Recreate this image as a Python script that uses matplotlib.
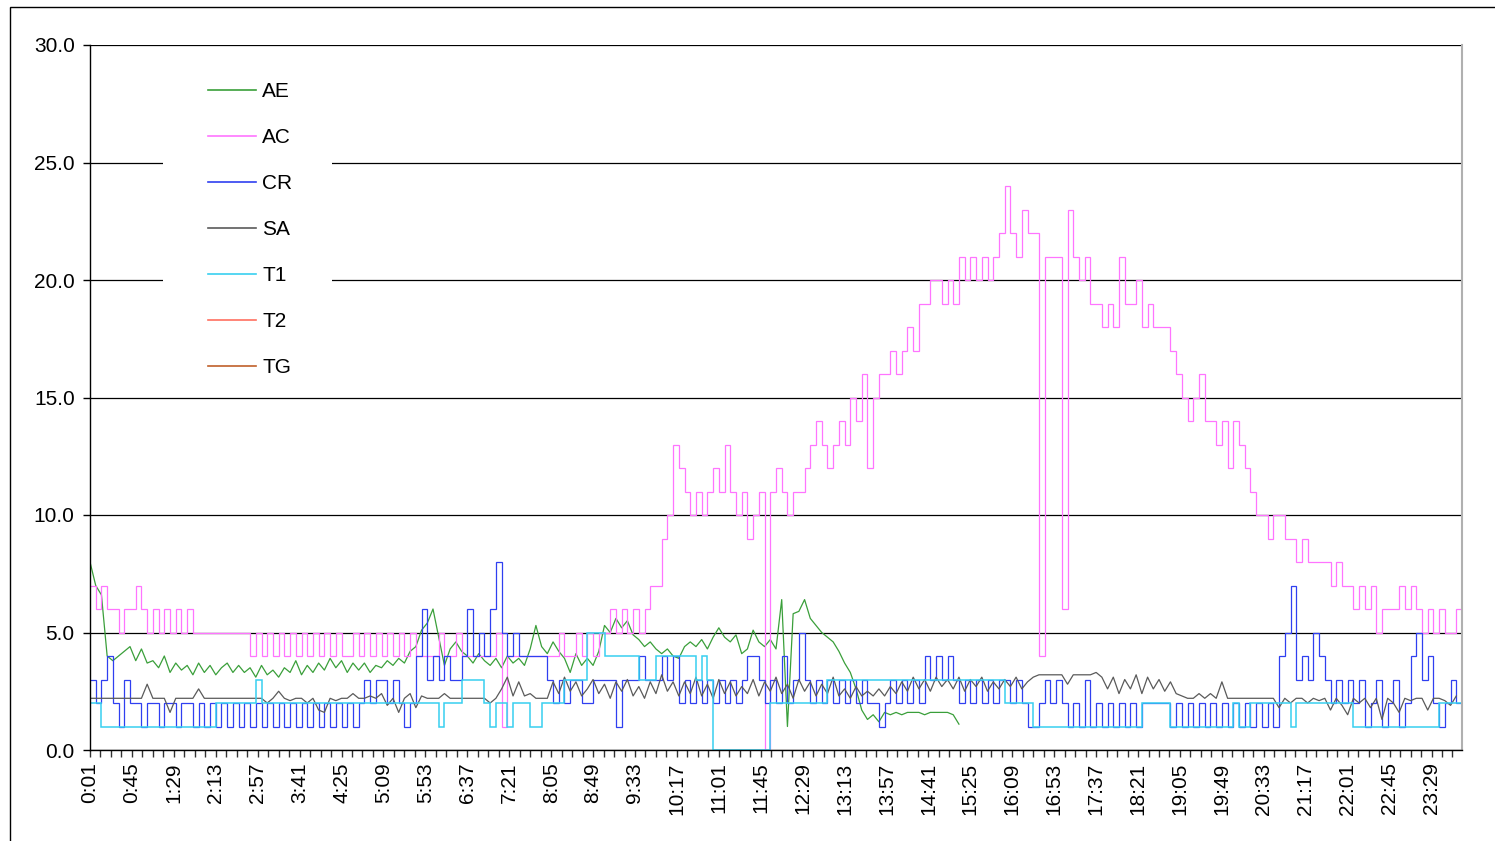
import numpy as np
import matplotlib
matplotlib.use('Agg')
import matplotlib.pyplot as plt
from matplotlib.patches import Rectangle
from matplotlib.lines import Line2D

plt.rcParams['font.family'] = ['Liberation Sans', 'DejaVu Sans']

# ---------------- data (one sample every 6 minutes, starting 0:01) ----------------
STEP_MIN = 6

tick_labels = ['0:01', '0:45', '1:29', '2:13', '2:57', '3:41', '4:25', '5:09', '5:53',
               '6:37', '7:21', '8:05', '8:49', '9:33', '10:17', '11:01', '11:45', '12:29',
               '13:13', '13:57', '14:41', '15:25', '16:09', '16:53', '17:37', '18:21',
               '19:05', '19:49', '20:33', '21:17', '22:01', '22:45', '23:29']

series_names = ['AE', 'AC', 'CR', 'SA', 'T1', 'T2', 'TG']

AE = [8.0, 7.0, 6.6, 4.0, 3.8, 4.0, 4.2, 4.4, 3.8, 4.3,
      3.7, 3.8, 3.5, 4.0, 3.3, 3.7, 3.4, 3.6, 3.2, 3.7,
      3.3, 3.6, 3.2, 3.5, 3.7, 3.3, 3.6, 3.3, 3.5, 3.1,
      3.6, 3.2, 3.4, 3.1, 3.5, 3.3, 3.8, 3.2, 3.6, 3.3,
      3.7, 3.4, 3.9, 3.5, 3.8, 3.3, 3.7, 3.4, 3.7, 3.3,
      3.6, 3.5, 3.8, 3.6, 3.9, 3.7, 4.2, 4.4, 5.1, 5.4,
      6.0, 4.8, 3.6, 4.3, 4.6, 4.2, 4.0, 3.7, 4.1, 3.8,
      3.6, 3.9, 3.5, 4.0, 3.7, 3.9, 3.6, 4.3, 5.3, 4.4,
      4.1, 4.6, 4.2, 3.9, 3.3, 4.1, 3.6, 3.9, 3.6, 4.2,
      5.3, 5.0, 5.6, 5.2, 5.5, 4.9, 4.7, 4.4, 4.6, 4.3,
      4.1, 4.3, 4.0, 3.9, 4.4, 4.6, 4.4, 4.7, 4.3, 4.8,
      5.2, 4.8, 4.6, 4.9, 4.1, 4.3, 5.1, 4.6, 4.4, 4.7,
      4.3, 6.4, 1.0, 5.8, 5.9, 6.4, 5.6, 5.3, 5.0, 4.8,
      4.6, 4.2, 3.7, 3.3, 2.6, 1.7, 1.3, 1.5, 1.2, 1.6,
      1.5, 1.6, 1.5, 1.6, 1.6, 1.6, 1.5, 1.6, 1.6, 1.6,
      1.6, 1.5, 1.1]

AC = [7, 6, 7, 6, 6, 5, 6, 6, 7, 6,
      5, 6, 5, 6, 5, 6, 5, 6, 5, 5,
      5, 5, 5, 5, 5, 5, 5, 5, 4, 5,
      4, 5, 4, 5, 4, 5, 4, 5, 4, 5,
      4, 5, 4, 5, 4, 4, 5, 4, 5, 4,
      5, 4, 5, 4, 5, 4, 5, 4, 4, 4,
      4, 5, 4, 4, 5, 4, 4, 4, 4, 4,
      4, 5, 1, 4, 4, 4, 4, 4, 4, 4,
      4, 4, 5, 4, 4, 5, 4, 5, 4, 5,
      5, 6, 5, 6, 5, 6, 5, 6, 7, 7,
      9, 10, 13, 12, 11, 10, 11, 10, 11, 12,
      11, 13, 11, 10, 11, 9, 10, 11, 0, 11,
      12, 11, 10, 11, 11, 12, 13, 14, 13, 12,
      13, 14, 13, 15, 14, 16, 12, 15, 16, 16,
      17, 16, 17, 18, 17, 19, 19, 20, 20, 19,
      20, 19, 21, 20, 21, 20, 21, 20, 21, 22,
      24, 22, 21, 23, 22, 22, 4, 21, 21, 21,
      6, 23, 21, 20, 21, 19, 19, 18, 19, 18,
      21, 19, 19, 20, 18, 19, 18, 18, 18, 17,
      16, 15, 14, 15, 16, 14, 14, 13, 14, 12,
      14, 13, 12, 11, 10, 10, 9, 10, 10, 9,
      9, 8, 9, 8, 8, 8, 8, 7, 8, 7,
      7, 6, 7, 6, 7, 5, 6, 6, 6, 7,
      6, 7, 6, 5, 6, 5, 6, 5, 5, 6]

CR = [3, 2, 3, 4, 2, 1, 3, 2, 2, 1,
      2, 2, 1, 2, 2, 1, 2, 2, 1, 2,
      1, 2, 1, 2, 1, 2, 1, 2, 1, 2,
      1, 2, 1, 2, 1, 2, 1, 2, 1, 2,
      1, 2, 1, 2, 1, 2, 1, 2, 3, 2,
      3, 3, 2, 3, 2, 1, 2, 4, 6, 3,
      4, 3, 4, 3, 3, 4, 6, 4, 5, 4,
      6, 8, 5, 4, 5, 4, 4, 4, 4, 4,
      3, 2, 3, 2, 3, 3, 2, 2, 3, 3,
      3, 3, 1, 3, 3, 3, 4, 3, 3, 3,
      4, 3, 4, 2, 3, 2, 3, 2, 3, 2,
      3, 2, 3, 2, 3, 4, 4, 3, 2, 3,
      2, 4, 2, 3, 5, 3, 2, 3, 2, 3,
      2, 3, 2, 3, 2, 3, 2, 2, 1, 2,
      3, 2, 3, 2, 3, 2, 4, 3, 4, 3,
      4, 3, 2, 3, 2, 3, 2, 3, 2, 3,
      3, 2, 3, 2, 1, 1, 2, 3, 2, 3,
      2, 1, 2, 1, 3, 1, 2, 1, 2, 1,
      2, 1, 2, 1, 2, 2, 2, 2, 2, 1,
      2, 1, 2, 1, 2, 1, 2, 1, 2, 1,
      2, 1, 2, 1, 2, 1, 2, 1, 4, 5,
      7, 3, 4, 3, 5, 4, 3, 2, 3, 2,
      3, 2, 3, 1, 2, 3, 1, 2, 3, 1,
      2, 4, 5, 3, 4, 2, 1, 2, 3, 2]

SA = [2.2, 2.2, 2.2, 2.2, 2.2, 2.2, 2.2, 2.2, 2.2, 2.2,
      2.8, 2.2, 2.2, 2.2, 1.6, 2.2, 2.2, 2.2, 2.2, 2.6,
      2.2, 2.2, 2.2, 2.2, 2.2, 2.2, 2.2, 2.2, 2.2, 2.2,
      2.2, 2.0, 2.2, 2.5, 2.2, 2.1, 2.2, 2.2, 2.0, 2.2,
      1.7, 1.6, 2.2, 2.1, 2.2, 2.2, 2.4, 2.2, 2.2, 2.3,
      2.2, 2.4, 1.9, 2.2, 1.6, 2.2, 2.4, 1.8, 2.3, 2.2,
      2.2, 2.2, 2.4, 2.2, 2.2, 2.2, 2.2, 2.2, 2.2, 2.2,
      2.0, 2.2, 2.6, 3.1, 2.3, 2.9, 2.3, 2.4, 2.2, 2.2,
      2.2, 2.9, 2.4, 3.1, 2.5, 2.9, 2.3, 2.6, 3.0, 2.4,
      2.8, 2.2, 2.9, 2.5, 3.0, 2.3, 2.7, 2.2, 2.9, 2.4,
      3.2, 2.5, 2.9, 2.3, 2.9, 2.4, 3.1, 2.3, 2.8, 2.2,
      3.0, 2.4, 2.9, 2.3, 2.7, 2.4, 3.0, 2.3, 2.9, 2.5,
      3.1, 2.4, 2.8, 2.2, 3.0, 2.5, 2.9, 2.3, 2.8, 2.4,
      3.1, 2.3, 2.6, 2.2, 2.7, 2.3, 2.5, 2.3, 2.6, 2.3,
      2.7, 2.4, 2.9, 2.5, 3.1, 2.6, 3.0, 2.5, 3.1, 2.7,
      3.0, 2.6, 3.1, 2.5, 3.0, 2.7, 3.1, 2.5, 2.9, 2.6,
      3.0, 2.7, 3.1, 2.6, 2.9, 3.1, 3.2, 3.2, 3.2, 3.2,
      3.2, 2.8, 3.2, 3.2, 3.2, 3.2, 3.3, 3.1, 2.6, 3.1,
      2.4, 3.0, 2.6, 3.2, 2.4, 3.1, 2.6, 3.0, 2.5, 2.9,
      2.4, 2.3, 2.2, 2.2, 2.4, 2.2, 2.4, 2.2, 2.9, 2.2,
      2.2, 2.2, 2.2, 2.2, 2.2, 2.2, 2.2, 2.2, 1.8, 2.2,
      2.0, 2.2, 2.2, 2.0, 2.2, 2.1, 2.2, 1.7, 2.2, 1.9,
      1.5, 2.2, 2.0, 2.2, 1.8, 2.2, 1.3, 2.2, 2.0, 1.6,
      2.2, 2.1, 2.2, 2.2, 1.7, 2.2, 2.2, 2.1, 1.9, 2.3]

T1 = [2, 2, 1, 1, 1, 1, 1, 1, 1, 1,
      1, 1, 1, 1, 1, 1, 1, 1, 1, 1,
      1, 1, 2, 2, 2, 2, 2, 2, 2, 3,
      2, 2, 2, 2, 2, 2, 2, 2, 2, 2,
      2, 2, 2, 2, 2, 2, 2, 2, 2, 2,
      2, 2, 2, 2, 2, 2, 2, 2, 2, 2,
      2, 1, 2, 2, 2, 3, 3, 3, 3, 2,
      1, 2, 2, 1, 2, 2, 2, 1, 1, 2,
      2, 2, 2, 3, 3, 3, 3, 5, 5, 5,
      4, 4, 4, 4, 4, 4, 3, 3, 3, 4,
      4, 4, 4, 4, 4, 4, 3, 4, 3, 0,
      0, 0, 0, 0, 0, 0, 0, 0, 0, 2,
      2, 2, 2, 2, 2, 2, 2, 2, 2, 3,
      3, 3, 3, 3, 3, 3, 3, 3, 3, 3,
      3, 3, 3, 3, 3, 3, 3, 3, 3, 3,
      3, 3, 3, 3, 3, 3, 3, 3, 3, 3,
      2, 2, 2, 2, 2, 1, 1, 1, 1, 1,
      1, 1, 1, 1, 1, 1, 1, 1, 1, 1,
      1, 1, 1, 1, 2, 2, 2, 2, 2, 1,
      1, 1, 1, 1, 1, 1, 1, 1, 1, 1,
      2, 1, 1, 2, 2, 2, 2, 2, 2, 2,
      1, 2, 2, 2, 2, 2, 2, 2, 2, 2,
      2, 1, 1, 1, 1, 1, 1, 1, 1, 1,
      1, 1, 1, 1, 1, 1, 2, 2, 2, 2]

T2 = []   # no visible values
TG = []   # no visible values

colors = {'AE': '#3a9f3a', 'AC': '#ff74ff', 'CR': '#2f3ff0', 'SA': '#5a5a5a',
          'T1': '#38d0f0', 'T2': '#ff7060', 'TG': '#c0602a'}

# ---------------- figure ----------------
W, H = 1495, 841
fig = plt.figure(figsize=(W / 100, H / 100), dpi=100)
fig.patch.set_facecolor('white')
ax = fig.add_axes([90 / W, 1 - 750 / H, (1462 - 90) / W, (750 - 45) / H])

def to_min(lbl):
    h, m = lbl.split(':')
    return int(h) * 60 + int(m)

t_major = [to_min(l) for l in tick_labels]
n = len(AC)
x_start = np.arange(n) * STEP_MIN + 1
edges = np.arange(n + 1) * STEP_MIN + 1

lw = 0.9
ax.plot(x_start[:len(AE)], AE, color=colors['AE'], lw=lw, zorder=2)
ax.stairs(AC, edges, baseline=None, color=colors['AC'], lw=lw, zorder=2.1)
ax.stairs(CR, edges, baseline=None, color=colors['CR'], lw=lw, zorder=2.2)
ax.plot(x_start, SA, color=colors['SA'], lw=lw, zorder=2.3)
ax.stairs(T1, edges, baseline=None, color=colors['T1'], lw=1.1, zorder=2.4)
ax.plot(np.arange(len(T2)), T2, color=colors['T2'], lw=lw)
ax.plot(np.arange(len(TG)), TG, color=colors['TG'], lw=lw)

ax.set_xlim(1, 1441)
ax.set_ylim(0, 30)

ax.set_yticks(np.arange(0, 31, 5))
ax.set_yticklabels([f'{v:.1f}' for v in np.arange(0, 31, 5)], fontsize=15)
ax.set_xticks(t_major)
ax.set_xticklabels(tick_labels, rotation=90, fontsize=15)
ax.set_xticks(np.arange(1, 1442, 11), minor=True)
ax.tick_params(axis='x', which='both', direction='out', length=5, width=1, color='#333333', pad=4)
ax.tick_params(axis='y', which='major', direction='out', length=5, width=1, pad=6)

ax.yaxis.grid(True, color='black', lw=0.9)
ax.set_axisbelow(True)
for s in ['left', 'bottom']:
    ax.spines[s].set_color('black')
    ax.spines[s].set_linewidth(1)
ax.spines['top'].set_visible(False)
ax.spines['right'].set_color('#b0b0b0')
ax.spines['right'].set_linewidth(1.5)

# white panel behind the legend, hiding the grid
ax.add_patch(Rectangle(((163 - 90) / 1372, (750 - 390) / 705), (332 - 163) / 1372, (390 - 65) / 705,
                       transform=ax.transAxes, facecolor='white', edgecolor='none', zorder=1.5))

handles = [Line2D([], [], color=colors[k], lw=1.2) for k in series_names]
leg = ax.legend(handles, series_names, loc='upper left', bbox_to_anchor=((208 - 90) / 1372, (750 - 82) / 705),
                frameon=False, fontsize=15, handlelength=2.3, handletextpad=0.3,
                labelspacing=1.3, borderpad=0, borderaxespad=0)
leg.set_zorder(5)

# outer chart border (top and left visible)
fig.add_artist(Rectangle((10 / W, -0.05), 1.2, 1 - 7 / H + 0.05, transform=fig.transFigure,
                         fill=False, edgecolor='black', lw=1, clip_on=False))

fig.savefig('out.png', dpi=100)
